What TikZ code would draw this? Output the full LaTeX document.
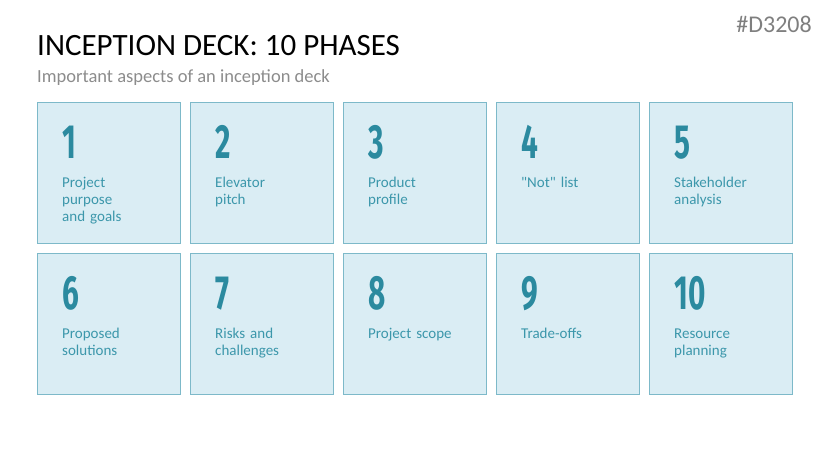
\documentclass[tikz,border=0pt]{standalone}
\usepackage{fontspec}
\setmainfont{Carlito}[Ligatures=TeXOff]
\newfontfamily\numfont[FakeStretch=0.62]{Fira Sans}
\usetikzlibrary{positioning}
\definecolor{boxfill}{HTML}{DAEDF4}
\definecolor{boxline}{HTML}{7DB9C9}
\definecolor{numcol}{HTML}{2B8A9F}
\definecolor{txtcol}{HTML}{3C97AB}
\definecolor{subgray}{HTML}{8C8C8C}
\definecolor{codegray}{HTML}{7F7F7F}

\begin{document}
\begin{tikzpicture}[
        x=1pt, y=-1pt,
        phase/.style={draw=boxline, fill=boxfill, line width=1pt, minimum width=143pt,
            minimum height=141pt, anchor=north west, inner sep=0pt},
        num/.style={font=\numfont\bfseries\fontsize{48}{48}\selectfont, text=numcol,
            anchor=base west, inner sep=0pt},
        desc/.style={font=\fontsize{15}{17}\selectfont, text=txtcol, align=left,
            text width=115pt, anchor=north west, inner sep=0pt}
    ]
    \useasboundingbox (0,0) rectangle (829,466);

    % Titel
    \node[anchor=base west, inner sep=0pt, font=\fontsize{31}{31}\selectfont] (title) at (37,55) {INCEPTION DECK: 10 PHASES};
    \node[anchor=base west, inner sep=0pt, text=subgray, font=\fontsize{18.5}{18.5}\selectfont] (subtitle) at (37,82) {Important aspects of an inception deck};
    \node[anchor=base east, inner sep=0pt, text=codegray, font=\fontsize{24}{24}\selectfont] (code) at (812,32) {\#D3208};

    % 10 Phasen
    \foreach \n/\t in {1/{Project\\purpose\\and goals}, 2/{Elevator\\pitch}, 3/{Product\\profile},
        4/{"Not" list}, 5/{Stakeholder\\analysis}, 6/{Proposed\\solutions},
        7/{Risks and\\challenges}, 8/{Project scope}, 9/{Trade-offs}, 10/{Resource\\planning}} {
        \pgfmathtruncatemacro\col{mod(\n-1,5)}
        \pgfmathtruncatemacro\row{(\n-1)/5}
        \node[phase] (box\n) at (37+153*\col, 102+151*\row) {};
        \node[num] (num\n) at ([shift={(25,56)}]box\n.north west) {\n};
        \node[desc] (txt\n) at ([yshift=-17.1pt]num\n.base west) {\strut\t};
    }
\end{tikzpicture}
\end{document}
